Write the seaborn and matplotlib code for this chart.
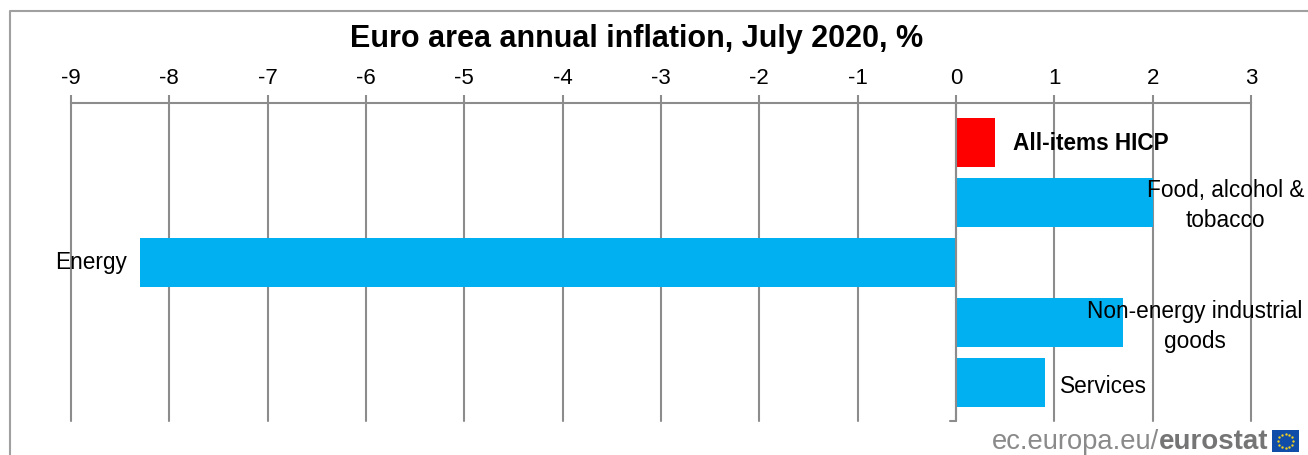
import numpy as np
import pandas as pd
import matplotlib
matplotlib.use('Agg')
import matplotlib.pyplot as plt
import seaborn as sb
from matplotlib.patches import Rectangle

# Values
categories = ["All-items HICP", "Food, alcohol &\ntobacco", "Energy", "Non-energy industrial\ngoods", "Services"]
values = [0.4, 2.0, -8.3, 1.7, 0.9]
kinds = ["total", "part", "part", "part", "part"]
x_ticks = [-9, -8, -7, -6, -5, -4, -3, -2, -1, 0, 1, 2, 3]

# Label anchors in data units
label_x = [0.58, 2.74, -8.43, 2.43, 1.06]
label_dy = [0.01, 0.05, 0.0, 0.07, 0.06]
label_ha = ["left", "center", "right", "center", "left"]
label_weight = ["bold", "normal", "normal", "normal", "normal"]

sb.set_style("white")
plt.rcParams['font.family'] = ['Liberation Sans', 'DejaVu Sans']
plt.rcParams['text.color'] = 'black'

W, H = 1308, 455
fig = plt.figure(figsize=(W / 100, H / 100), dpi=100)
ax = fig.add_axes([71 / W, 1 - 421 / H, (1251 - 71) / W, (421 - 103) / H])

df = pd.DataFrame({"category": categories, "value": values, "kind": kinds})
sb.barplot(data=df, x="value", y="category", hue="kind", dodge=False, legend=False,
           palette={"total": "#ff0000", "part": "#00b0f0"}, width=0.815, saturation=1,
           linewidth=0, ax=ax, zorder=2)

grey = "#8c8c8c"
ax.set_xlim(-9, 3)
ax.set_ylim(4.642, -0.658)
ax.set_xticks(x_ticks)
ax.set_xticklabels([str(t) for t in x_ticks], fontsize=16, color="black")
ax.xaxis.tick_top()
ax.tick_params(axis='x', length=6, width=1.5, color=grey, pad=4, top=True, bottom=False)
ax.set_yticks([])
ax.set_xlabel("")
ax.set_ylabel("")
ax.grid(axis='x', color=grey, linewidth=1.5, zorder=1, clip_on=False)
ax.set_axisbelow(True)
for side in ['left', 'right', 'bottom']:
    ax.spines[side].set_visible(False)
ax.spines['top'].set_color(grey)
ax.spines['top'].set_linewidth(1.5)
ax.axvline(0, color=grey, linewidth=1.5, zorder=3)

# small end tick on the zero line
ax.plot([-0.06, 0], [4.642, 4.642], color=grey, linewidth=1.5, clip_on=False, zorder=3)

for i, cat in enumerate(categories):
    ax.text(label_x[i], i + label_dy[i], cat, ha=label_ha[i], va="center", fontsize=16.3,
            fontweight=label_weight[i], multialignment="center", linespacing=1.36, zorder=4,
            color="black")

fig.text(637 / W, 1 - 39 / H, "Euro area annual inflation, July 2020, %", ha="center", va="center",
         fontsize=22, fontweight="bold", color="black")

# Outer frame, open on the right and the bottom
fig.add_artist(plt.Line2D([9.5 / W, 9.5 / W, 1], [0, 1 - 11 / H, 1 - 11 / H], color="#a0a0a0", linewidth=1.5))

# Source mark
fig.text(1159 / W, 1 - 442 / H, "ec.europa.eu/", ha="right", va="center", fontsize=19.7, color="#8a8a8a")
fig.text(1159 / W, 1 - 442 / H, "eurostat", ha="left", va="center", fontsize=20,
         fontweight="bold", color="#757575")

# EU flag
fx0, fy0, fw, fh = 1272, 430, 27, 22
flag = fig.add_axes([fx0 / W, 1 - (fy0 + fh) / H, fw / W, fh / H])
flag.add_patch(Rectangle((0, 0), 1, 1, color="#0f4da8"))
angles = np.arange(0, 360, 30)
flag.scatter(0.5 + 0.27 * np.cos(np.radians(angles)), 0.5 + 0.33 * np.sin(np.radians(angles)),
             s=3, color="#f0d020", marker="o", linewidths=0)
flag.set_xlim(0, 1)
flag.set_ylim(0, 1)
flag.axis("off")

fig.savefig("out.png", dpi=100, facecolor="white")
